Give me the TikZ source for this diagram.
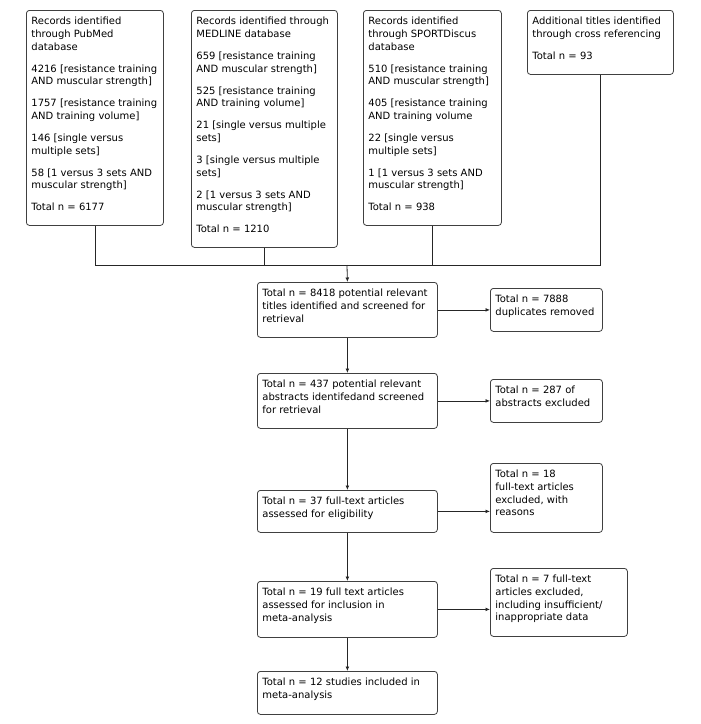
\documentclass[tikz,border=0pt]{standalone}
\usepackage{fontspec}
\setmainfont{DejaVu Sans}
\usetikzlibrary{arrows.meta}
\newdimen\bxw
\newcommand\lyne[1]{\hbox to \bxw{\strut\hskip 5pt #1\hss}}
\newcommand\pgap{\vskip 9.3pt}
\newcommand\boxc[3]{\bxw=#1pt\vbox to #2pt{\fontsize{10}{12.7}\selectfont\lineskiplimit=-100pt\vskip 5.5pt #3\vfil}}
\tikzset{
  box/.style={draw=black!75, line width=0.8pt, rounded corners=3pt, inner sep=0pt, anchor=north west, fill=white},
  conn/.style={draw=black!85, line width=0.8pt},
  arr/.style={conn, -{Latex[length=4.5pt,width=3.8pt]}}
}
\begin{document}
\begin{tikzpicture}[x=1pt,y=-1pt]
\useasboundingbox (0,0) rectangle (701,724);
\fill[white] (0,0) rectangle (701,724);
\node[box] (b1) at (26,10) {\boxc{137}{215}{%
  \lyne{Records identified}\lyne{through PubMed}\lyne{database}\pgap
  \lyne{4216 [resistance training}\lyne{AND muscular strength]}\pgap
  \lyne{1757 [resistance training}\lyne{AND training volume]}\pgap
  \lyne{146 [single versus}\lyne{multiple sets]}\pgap
  \lyne{58 [1 versus 3 sets AND}\lyne{muscular strength]}\pgap
  \lyne{Total n = 6177}}};
\node[box] (b2) at (191,10) {\boxc{146}{237}{%
  \lyne{Records identified through}\lyne{MEDLINE database}\pgap
  \lyne{659 [resistance training}\lyne{AND muscular strength]}\pgap
  \lyne{525 [resistance training}\lyne{AND training volume]}\pgap
  \lyne{21 [single versus multiple}\lyne{sets]}\pgap
  \lyne{3 [single versus multiple}\lyne{sets]}\pgap
  \lyne{2 [1 versus 3 sets AND}\lyne{muscular strength]}\pgap
  \lyne{Total n = 1210}}};
\node[box] (b3) at (363,10) {\boxc{138}{215}{%
  \lyne{Records identified}\lyne{through SPORTDiscus}\lyne{database}\pgap
  \lyne{510 [resistance training}\lyne{AND muscular strength]}\pgap
  \lyne{405 [resistance training}\lyne{AND training volume}\pgap
  \lyne{22 [single versus}\lyne{multiple sets]}\pgap
  \lyne{1 [1 versus 3 sets AND}\lyne{muscular strength]}\pgap
  \lyne{Total n = 938}}};
\node[box] (b4) at (527,10) {\boxc{146}{64}{%
  \lyne{Additional titles identified}\lyne{through cross referencing}\pgap
  \lyne{Total n = 93}}};
\node[box] (A) at (257,282) {\boxc{180}{55}{%
  \lyne{Total n = 8418 potential relevant}\lyne{titles identified and screened for}\lyne{retrieval}}};
\node[box] (B) at (490,288) {\boxc{112}{43}{%
  \lyne{Total n = 7888}\lyne{duplicates removed}}};
\node[box] (C) at (257,373) {\boxc{180}{55}{%
  \lyne{Total n = 437 potential relevant}\lyne{abstracts identifedand screened}\lyne{for retrieval}}};
\node[box] (D) at (490,379) {\boxc{112}{43}{%
  \lyne{Total n = 287 of}\lyne{abstracts excluded}}};
\node[box] (E) at (257,490) {\boxc{180}{42}{%
  \lyne{Total n = 37 full-text articles}\lyne{assessed for eligibility}}};
\node[box] (F) at (490,463) {\boxc{112}{69}{%
  \lyne{Total n = 18}\lyne{full-text articles}\lyne{excluded, with}\lyne{reasons}}};
\node[box] (G) at (257,581) {\boxc{180}{56}{%
  \lyne{Total n = 19 full text articles}\lyne{assessed for inclusion in}\lyne{meta-analysis}}};
\node[box] (H) at (490,568) {\boxc{137}{68}{%
  \lyne{Total n = 7 full-text}\lyne{articles excluded,}\lyne{including insufficient/}\lyne{inappropriate data}}};
\node[box] (I) at (257,671) {\boxc{180}{43}{%
  \lyne{Total n = 12 studies included in}\lyne{meta-analysis}}};
\coordinate (j) at (347,265);
\draw[conn] (b1.south) |- (j);
\draw[conn] (b4.south) |- (j);
\draw[conn] (b2.south) -- (b2.south |- j);
\draw[conn] (b3.south) -- (b3.south |- j);
\draw[arr] (j) -- (A.north);
\draw[arr] (A.south) -- (C.north);
\draw[arr] (C.south) -- (E.north);
\draw[arr] (E.south) -- (G.north);
\draw[arr] (G.south) -- (I.north);
\draw[arr] (A.east) -- (B.west);
\draw[arr] (C.east) -- (D.west);
\draw[arr] (E.east) -- (F.west |- E.east);
\draw[arr] (G.east) -- (H.west |- G.east);
\end{tikzpicture}
\end{document}
